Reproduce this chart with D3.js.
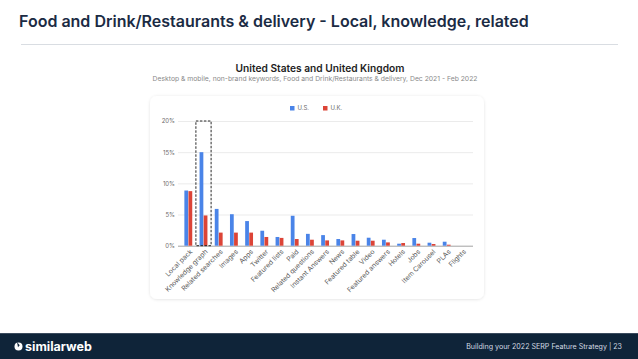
<!DOCTYPE html>
<html>
<head>
<meta charset="utf-8">
<script src="https://cdn.jsdelivr.net/npm/d3@7"></script>
<style>
  body { margin: 0; background: #fff; }
  svg { display: block; }
</style>
</head>
<body>
<svg id="chart" width="638" height="359"></svg>
<script>
var categories = ["Local pack", "Knowledge graph", "Related searches", "Images", "Apps", "Twitter",
  "Featured lists", "Paid", "Related questions", "Instant Answers", "News", "Featured table",
  "Video", "Featured answers", "Hotels", "Jobs", "Item Carousel", "PLAs", "Flights"];
var usValues = [8.85, 15.0, 5.9, 5.05, 3.95, 2.4, 1.4, 4.8, 1.9, 1.7, 1.07, 1.87, 1.28, 0.96, 0.32, 1.23, 0.48, 0.64, 0];
var ukValues = [8.75, 4.85, 2.1, 2.1, 2.1, 1.4, 1.25, 1.07, 0.96, 0.85, 0.85, 0.8, 0.8, 0.53, 0.43, 0.32, 0.27, 0.16, 0];
var series = ["U.S.", "U.K."];
var yTicks = [0, 5, 10, 15, 20];
var highlighted = "Knowledge graph";

var colors = { "U.S.": "#4a84e8", "U.K.": "#dc4437" };
var navy = "#1b2b44";
var font = "Inter, 'DejaVu Sans', sans-serif";

var svg = d3.select("#chart");

// slide header
svg.append("text")
  .attr("x", 19).attr("y", 27)
  .attr("fill", navy)
  .style("font", "600 16px " + font)
  .text("Food and Drink/Restaurants & delivery - Local, knowledge, related");

svg.append("line")
  .attr("x1", 21).attr("x2", 618).attr("y1", 44.5).attr("y2", 44.5)
  .attr("stroke", "#d9dde2").attr("stroke-width", 1);

// chart titles
svg.append("text")
  .attr("x", 320).attr("y", 72)
  .attr("text-anchor", "middle")
  .attr("fill", "#1e1e1e")
  .style("font", "600 10.2px " + font)
  .text("United States and United Kingdom");

svg.append("text")
  .attr("x", 315).attr("y", 80.5)
  .attr("text-anchor", "middle")
  .attr("fill", "#8a8a8a")
  .style("font", "400 6.8px " + font)
  .text("Desktop & mobile, non-brand keywords, Food and Drink/Restaurants & delivery, Dec 2021 - Feb 2022");

// card behind the chart
var defs = svg.append("defs");
var shadow = defs.append("filter").attr("id", "shadow")
  .attr("x", "-10%").attr("y", "-10%").attr("width", "120%").attr("height", "120%");
shadow.append("feDropShadow").attr("dx", 0).attr("dy", 0.5)
  .attr("stdDeviation", 1.5).attr("flood-color", "#000").attr("flood-opacity", 0.12);

svg.append("rect")
  .attr("x", 150).attr("y", 96).attr("width", 334).attr("height", 203)
  .attr("rx", 7)
  .attr("fill", "#fff")
  .attr("filter", "url(#shadow)");

// scales
var xScale = d3.scaleBand()
  .domain(categories)
  .range([180.7, 469.5])
  .paddingInner(0.44)
  .paddingOuter(0.22);

var xSub = d3.scaleBand()
  .domain(series)
  .range([0, xScale.bandwidth()])
  .padding(0.08);

var yScale = d3.scaleLinear()
  .domain([0, 20])
  .range([245.7, 121]);

// gridlines + y labels
var yAxis = d3.axisLeft(yScale)
  .tickValues(yTicks)
  .tickSize(-295)
  .tickFormat(function (d) { return d + "%"; });

var yG = svg.append("g")
  .attr("transform", "translate(178,0)")
  .call(yAxis);
yG.select(".domain").remove();
yG.selectAll(".tick line").attr("stroke", "#e6e6e6").attr("stroke-width", 0.8);
yG.selectAll(".tick text")
  .attr("x", -3)
  .attr("fill", "#6b6b6b")
  .style("font", "400 6px " + font);
yG.selectAll(".tick").filter(function (d) { return d === 0; }).select("line")
  .attr("stroke", "#8c8c8c");

// bars
var rows = categories.map(function (c, i) {
  return { category: c, values: [{ key: "U.S.", value: usValues[i] }, { key: "U.K.", value: ukValues[i] }] };
});

var groups = svg.append("g").selectAll("g")
  .data(rows)
  .enter()
  .append("g")
  .attr("transform", function (d) { return "translate(" + xScale(d.category) + ",0)"; });

groups.selectAll("rect")
  .data(function (d) { return d.values; })
  .enter()
  .append("rect")
  .attr("x", function (d) { return xSub(d.key); })
  .attr("width", xSub.bandwidth())
  .attr("y", function (d) { return yScale(d.value); })
  .attr("height", function (d) { return yScale(0) - yScale(d.value); })
  .attr("fill", function (d) { return colors[d.key]; });

// dashed highlight box
var step = xScale.step();
svg.append("rect")
  .attr("x", xScale(highlighted) + xScale.bandwidth() / 2 - step / 2)
  .attr("y", yScale(20))
  .attr("width", step)
  .attr("height", yScale(0) - yScale(20))
  .attr("fill", "none")
  .attr("stroke", "#111")
  .attr("stroke-width", 0.9)
  .attr("stroke-dasharray", "2.5,1.5");

// x labels
var xAxis = d3.axisBottom(xScale).tickSize(0);
var xG = svg.append("g")
  .attr("transform", "translate(0," + (yScale(0) + 2) + ")")
  .call(xAxis);
xG.select(".domain").remove();
xG.selectAll(".tick text")
  .attr("fill", "#5a5a5a")
  .style("font", "400 6.8px " + font)
  .style("text-anchor", "end")
  .attr("dx", "0")
  .attr("dy", "0.5em")
  .attr("transform", "rotate(-45)");

// legend
var legend = svg.append("g").selectAll("g")
  .data(series)
  .enter()
  .append("g")
  .attr("transform", function (d, i) { return "translate(" + (290 + i * 33) + ",106)"; });
legend.append("rect")
  .attr("width", 4.5).attr("height", 4.5)
  .attr("fill", function (d) { return colors[d]; });
legend.append("text")
  .attr("x", 7.5).attr("y", 4.3)
  .attr("fill", "#6b6b6b")
  .style("font", "400 6px " + font)
  .text(function (d) { return d; });

// footer band
svg.append("rect")
  .attr("x", 0).attr("y", 333).attr("width", 638).attr("height", 26)
  .attr("fill", "#0f2439");
svg.append("line")
  .attr("x1", 0).attr("x2", 638).attr("y1", 333.5).attr("y2", 333.5)
  .attr("stroke", "#3b4b5e").attr("stroke-width", 1);

// logo mark
var logo = svg.append("g").attr("transform", "translate(18.5,346.5)");
logo.append("circle").attr("r", 4).attr("fill", "#fff");
logo.append("path")
  .attr("d", "M-1.5,-4.5 L1.2,-1.2 L-0.5,0.8 Z")
  .attr("fill", "#0f2439");
svg.append("text")
  .attr("x", 25).attr("y", 350.5)
  .attr("fill", "#fff")
  .style("font", "700 12.5px " + font)
  .text("similarweb");

svg.append("text")
  .attr("x", 622).attr("y", 348.5)
  .attr("text-anchor", "end")
  .attr("fill", "#d5dbe3")
  .style("font", "400 7.1px " + font)
  .text("Building your 2022 SERP Feature Strategy |   23");
</script>
</body>
</html>
